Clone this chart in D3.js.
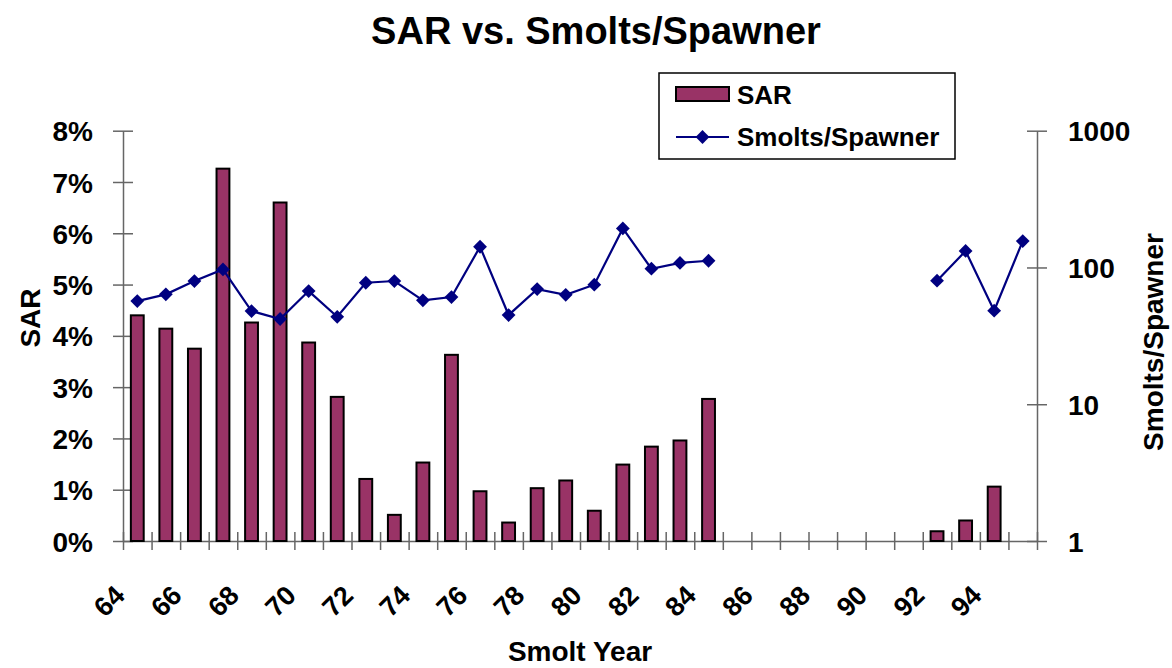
<!DOCTYPE html>
<html>
<head>
<meta charset="utf-8">
<script src="https://cdn.jsdelivr.net/npm/d3@7"></script>
<style>
  body { margin: 0; background: #fff; }
  text { font-family: "Liberation Sans", Arial, sans-serif; font-weight: bold; fill: #000; }
</style>
</head>
<body>
<div id="chart"></div>
<script>
// Smolt years, one category each
var years = ['64', '65', '66', '67', '68', '69', '70', '71', '72', '73', '74',
             '75', '76', '77', '78', '79', '80', '81', '82', '83', '84', '85',
             '86', '87', '88', '89', '90', '91', '92', '93', '94', '95'];

// SAR in percent (null = no bar)
var sar = [4.40, 4.14, 3.75, 7.26, 4.26, 6.60, 3.87, 2.81, 1.21, 0.51, 1.53,
           3.63, 0.97, 0.36, 1.03, 1.18, 0.59, 1.49, 1.84, 1.96, 2.77, null,
           null, null, null, null, null, null, 0.19, 0.40, 1.06, null];

// Smolts per spawner, log axis (null = gap in line)
var smolts = [56.8, 63.6, 79.6, 96.8, 48.0, 42.0, 67.2, 43.6, 77.3, 79.6, 57.5,
              60.8, 141.7, 44.9, 69.5, 63.1, 74.8, 193, 97.9, 108, 112, null,
              null, null, null, null, null, null, 80, 132, 48.3, 156];

var sarTicks = [0, 0.01, 0.02, 0.03, 0.04, 0.05, 0.06, 0.07, 0.08];
var smoltTicks = [1, 10, 100, 1000];
var yearLabels = years.filter(function(d, i) { return i % 2 === 0; });

var opts = {
  width: 1172,
  height: 668,
  left: 123,
  right: 1037,
  top: 130.7,
  bottom: 541,
  barColor: '#993366',
  lineColor: '#000080',
  axisColor: '#666'
};

var svg = d3.select('#chart').append('svg')
  .attr('width', opts.width)
  .attr('height', opts.height);

var x = d3.scaleBand()
  .domain(years)
  .range([opts.left, opts.right])
  .paddingInner(0.55)
  .paddingOuter(0.275);

// boundary ticks sit between categories
var xEdge = d3.scaleLinear()
  .domain([0, years.length])
  .range([opts.left, opts.right]);

var yLeft = d3.scaleLinear()
  .domain([0, 0.08])
  .range([opts.bottom, opts.top]);

var yRight = d3.scaleLog()
  .domain([1, 1000])
  .range([opts.bottom, opts.top]);

/* === Axes === */

function crossTicks(g, vertical) {
  g.select('.domain').attr('stroke', opts.axisColor).attr('stroke-width', 1.5);
  g.selectAll('.tick line')
    .attr('stroke', opts.axisColor)
    .attr('stroke-width', 1.5);
  if (vertical) {
    g.selectAll('.tick line').attr('x1', -10).attr('x2', 10);
  } else {
    g.selectAll('.tick line').attr('y1', -9).attr('y2', 9);
  }
}

var leftAxis = svg.append('g')
  .attr('transform', 'translate(' + opts.left + ',0)')
  .call(d3.axisLeft(yLeft).tickValues(sarTicks).tickFormat(d3.format('.0%')).tickSizeOuter(0).tickPadding(24));
crossTicks(leftAxis, true);
leftAxis.selectAll('.tick text')
  .attr('font-size', 28)
  .attr('dy', '0.36em');

var rightAxis = svg.append('g')
  .attr('transform', 'translate(' + opts.right + ',0)')
  .call(d3.axisRight(yRight).tickValues(smoltTicks).tickFormat(d3.format('d')).tickSizeOuter(0).tickPadding(25));
crossTicks(rightAxis, true);
rightAxis.selectAll('.tick text')
  .attr('font-size', 28)
  .attr('dy', '0.36em');

var bottomAxis = svg.append('g')
  .attr('transform', 'translate(0,' + opts.bottom + ')')
  .call(d3.axisBottom(xEdge).tickValues(d3.range(years.length + 1)).tickFormat('').tickSizeOuter(0));
crossTicks(bottomAxis, false);

// rotated year labels, every other year
svg.append('g')
  .selectAll('text')
  .data(yearLabels)
  .join('text')
    .attr('font-size', 27)
    .attr('text-anchor', 'end')
    .attr('transform', function(d) {
      var cx = x(d) + x.bandwidth() / 2 - 11;
      return 'translate(' + cx + ',' + (opts.bottom + 56) + ') rotate(-45)';
    })
    .text(function(d) { return d; });

/* === Marks === */

svg.append('g')
  .selectAll('rect')
  .data(years.filter(function(d, i) { return sar[i] != null; }))
  .join('rect')
    .attr('x', function(d) { return x(d); })
    .attr('y', function(d) { return yLeft(sar[years.indexOf(d)] / 100); })
    .attr('width', x.bandwidth())
    .attr('height', function(d) { return opts.bottom - yLeft(sar[years.indexOf(d)] / 100); })
    .attr('fill', opts.barColor)
    .attr('stroke', '#000')
    .attr('stroke-width', 2);

var points = years.map(function(d, i) { return {year: d, v: smolts[i]}; });

var line = d3.line()
  .defined(function(d) { return d.v != null; })
  .x(function(d) { return x(d.year) + x.bandwidth() / 2; })
  .y(function(d) { return yRight(d.v); });

svg.append('path')
  .datum(points)
  .attr('d', line)
  .attr('fill', 'none')
  .attr('stroke', opts.lineColor)
  .attr('stroke-width', 2.2);

var diamond = d3.symbol().type(d3.symbolSquare).size(95);

svg.append('g')
  .selectAll('path')
  .data(points.filter(function(d) { return d.v != null; }))
  .join('path')
    .attr('d', diamond)
    .attr('fill', opts.lineColor)
    .attr('transform', function(d) {
      return 'translate(' + (x(d.year) + x.bandwidth() / 2) + ',' + yRight(d.v) + ') rotate(45)';
    });

/* === Titles === */

svg.append('text')
  .attr('x', 596)
  .attr('y', 44)
  .attr('text-anchor', 'middle')
  .attr('font-size', 38)
  .text('SAR vs. Smolts/Spawner');

svg.append('text')
  .attr('x', (opts.left + opts.right) / 2)
  .attr('y', 661)
  .attr('text-anchor', 'middle')
  .attr('font-size', 28)
  .text('Smolt Year');

svg.append('text')
  .attr('transform', 'translate(40,318) rotate(-90)')
  .attr('text-anchor', 'middle')
  .attr('font-size', 28)
  .text('SAR');

svg.append('text')
  .attr('transform', 'translate(1163,342) rotate(-90)')
  .attr('text-anchor', 'middle')
  .attr('font-size', 28)
  .text('Smolts/Spawner');

/* === Legend === */

var legend = svg.append('g').attr('transform', 'translate(659,73)');

legend.append('rect')
  .attr('width', 296)
  .attr('height', 86)
  .attr('fill', '#fff')
  .attr('stroke', '#000')
  .attr('stroke-width', 1.5);

legend.append('rect')
  .attr('x', 17)
  .attr('y', 14)
  .attr('width', 53)
  .attr('height', 14)
  .attr('fill', opts.barColor)
  .attr('stroke', '#000')
  .attr('stroke-width', 2);

legend.append('line')
  .attr('x1', 17)
  .attr('x2', 70)
  .attr('y1', 64)
  .attr('y2', 64)
  .attr('stroke', opts.lineColor)
  .attr('stroke-width', 2.2);

legend.append('path')
  .attr('d', diamond)
  .attr('fill', opts.lineColor)
  .attr('transform', 'translate(43.5,64) rotate(45)');

legend.append('text')
  .attr('x', 78)
  .attr('y', 31)
  .attr('font-size', 26)
  .text('SAR');

legend.append('text')
  .attr('x', 78)
  .attr('y', 73)
  .attr('font-size', 26)
  .text('Smolts/Spawner');
</script>
</body>
</html>
